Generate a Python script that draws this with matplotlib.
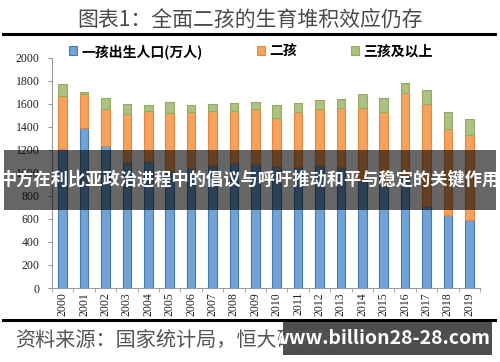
import matplotlib.pyplot as plt
import matplotlib.patches as patches
import numpy as np

plt.rcParams['font.family'] = ['Noto Sans CJK SC', 'DejaVu Sans']

# data (万人)
years = [str(y) for y in range(2000, 2020)]
first = [1205, 1395, 1238, 1096, 1102, 1020, 1045, 1067, 1085, 1082,
         1060, 1055, 1070, 1050, 930, 900, 970, 715, 635, 595]
total_12 = [1667, 1690, 1560, 1516, 1536, 1525, 1530, 1539, 1539, 1554,
            1482, 1530, 1557, 1563, 1569, 1530, 1699, 1597, 1386, 1328]
total = [1771, 1704, 1650, 1603, 1595, 1617, 1589, 1597, 1609, 1617,
         1589, 1609, 1638, 1641, 1690, 1655, 1786, 1725, 1528, 1467]
second = [b - a for a, b in zip(first, total_12)]
third = [c - b for b, c in zip(total_12, total)]

fig = plt.figure(figsize=(5, 3.62), dpi=100)
ax = fig.add_axes([0.104, 0.2044, 0.856, 0.6356])

x = np.arange(len(years))
w = 0.4
ax.bar(x, first, w, color='#72a3d8', edgecolor='#4a79b0', linewidth=0.8,
       label='一孩出生人口(万人)')
ax.bar(x, second, w, bottom=first, color='#f7a25c', edgecolor='#e08a40',
       linewidth=0.8, label='二孩')
ax.bar(x, third, w, bottom=total_12, color='#adc27e', edgecolor='#93aa62',
       linewidth=0.8, label='三孩及以上')

ax.set_ylim(0, 2000)
ax.set_xlim(-0.5, 19.45)
ax.set_yticks(range(0, 2001, 200))
ax.set_xticks(x)
ax.set_xticklabels(years, rotation=90)
ax.set_xticks(np.arange(-0.5, 19.6, 1), minor=True)
for lab in ax.get_yticklabels() + ax.get_xticklabels():
    lab.set_family('Liberation Serif')
    lab.set_fontsize(8.5)
    lab.set_color('#222222')
ax.tick_params(axis='x', which='major', length=0, pad=3)
ax.tick_params(axis='x', which='minor', length=3, color='#999999')
ax.tick_params(axis='y', length=3, color='#999999', pad=6)
for s in ['top', 'right']:
    ax.spines[s].set_visible(False)
ax.spines['left'].set_color('#999999')
ax.spines['bottom'].set_color('#999999')

ax.legend(loc='upper left', bbox_to_anchor=(0.01, 1.115), ncol=3, frameon=False,
          prop={'weight': 'bold', 'size': 10}, handlelength=0.6, handleheight=0.6,
          handletextpad=0.3, columnspacing=3.9)

# title and rules
fig.text(0.5, 0.943, '图表1：全面二孩的生育堆积效应仍存', ha='center', va='center',
         fontsize=15, color='#4a4a4a')
fig.add_artist(plt.Line2D([0.006, 0.99], [0.905, 0.905], color='black', lw=2.2))
fig.add_artist(plt.Line2D([0.006, 0.99], [0.116, 0.116], color='black', lw=2.2))
fig.text(0.03, 0.06, '资料来源：国家统计局，恒大研究院', ha='left', va='center',
         fontsize=14.5, color='#555555')

# overlay banner
fig.add_artist(patches.Rectangle((0.008, 0.42), 0.984, 0.166, transform=fig.transFigure,
                                 color='black', alpha=0.6, lw=0))
fig.text(0.5, 0.503, '中方在利比亚政治进程中的倡议与呼吁推动和平与稳定的关键作用',
         ha='center', va='center', fontsize=12.4, color='white', weight='bold')

# watermark
fig.add_artist(patches.Rectangle((0.566, 0.019), 0.418, 0.092, transform=fig.transFigure,
                                 color='#3a3a3a', alpha=0.9, lw=0))
fig.text(0.763, 0.066, 'www.billion28-28.com', ha='center', va='center',
         fontsize=14, color='white', weight='bold')

fig.savefig('out.png', dpi=100)
